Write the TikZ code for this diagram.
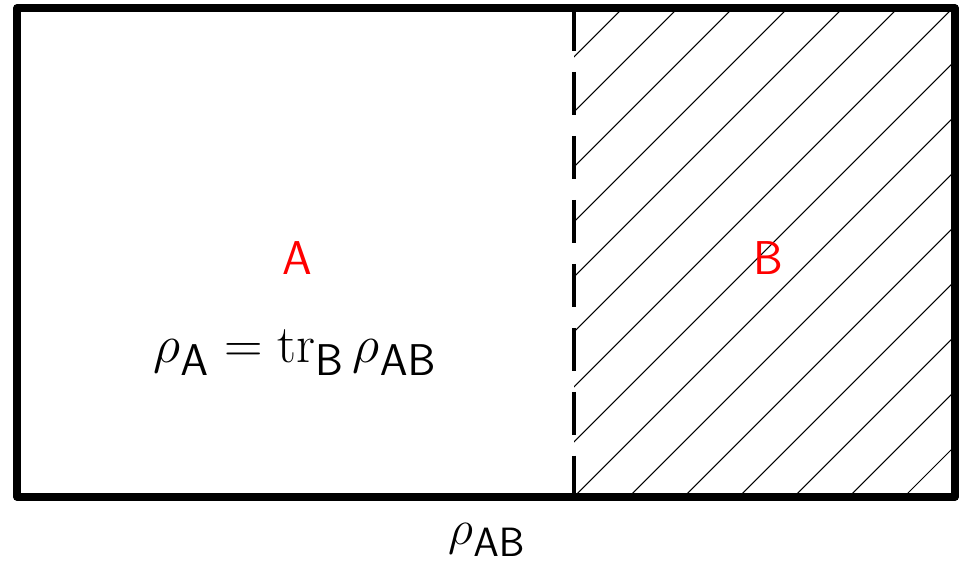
\documentclass[tikz,border=0pt]{standalone}
\usepackage{tikz}
\usetikzlibrary{positioning, calc}
\usepackage{amsmath, amssymb}
\definecolor{labelred}{RGB}{255, 0, 0}

\tikzset{
  frame/.style={line width=4.2pt, line join=round},
  cut/.style={line width=2.3pt, dash pattern=on 24.4pt off 12pt},
  hatch/.style={line width=0.6pt},
  region/.style={text=labelred, font=\fontsize{27}{32}\selectfont\sffamily},
  formula/.style={font=\Huge, scale=1.22, transform shape}
}

\begin{document}
\begin{tikzpicture}
  \useasboundingbox (0,0) rectangle (19.5,11.3);
  % system AB
  \coordinate (sw) at (0.34,1.36);
  \coordinate (ne) at (19.1,11.14);
  \coordinate (cuttop) at (11.48,11.14);
  \coordinate (cutbot) at (11.48,1.36);
  % traced-out part B
  \begin{scope}
    \clip (cutbot) rectangle (ne);
    \foreach \c in {-1,...,15}
      \draw[hatch] ($(12.46,11.14)+(\c*1.1,0)+(-10,-10)$) -- ++(20,20);
  \end{scope}
  \draw[cut] (cuttop) -- (cutbot);
  \draw[frame] (sw) rectangle (ne);
  \node[region] (a) at (5.94,6.14) {A};
  \node[region] (b) at (15.36,6.14) {B};
  \node[formula] (ra) at (5.9,4.25) {$\rho_{\mathsf{A}} = \operatorname{tr}_{\mathsf{B}} \rho_{\mathsf{AB}}$};
  \node[formula, scale=0.92] (rab) at (9.74,0.5) {$\rho_{\mathsf{AB}}$};
\end{tikzpicture}
\end{document}
